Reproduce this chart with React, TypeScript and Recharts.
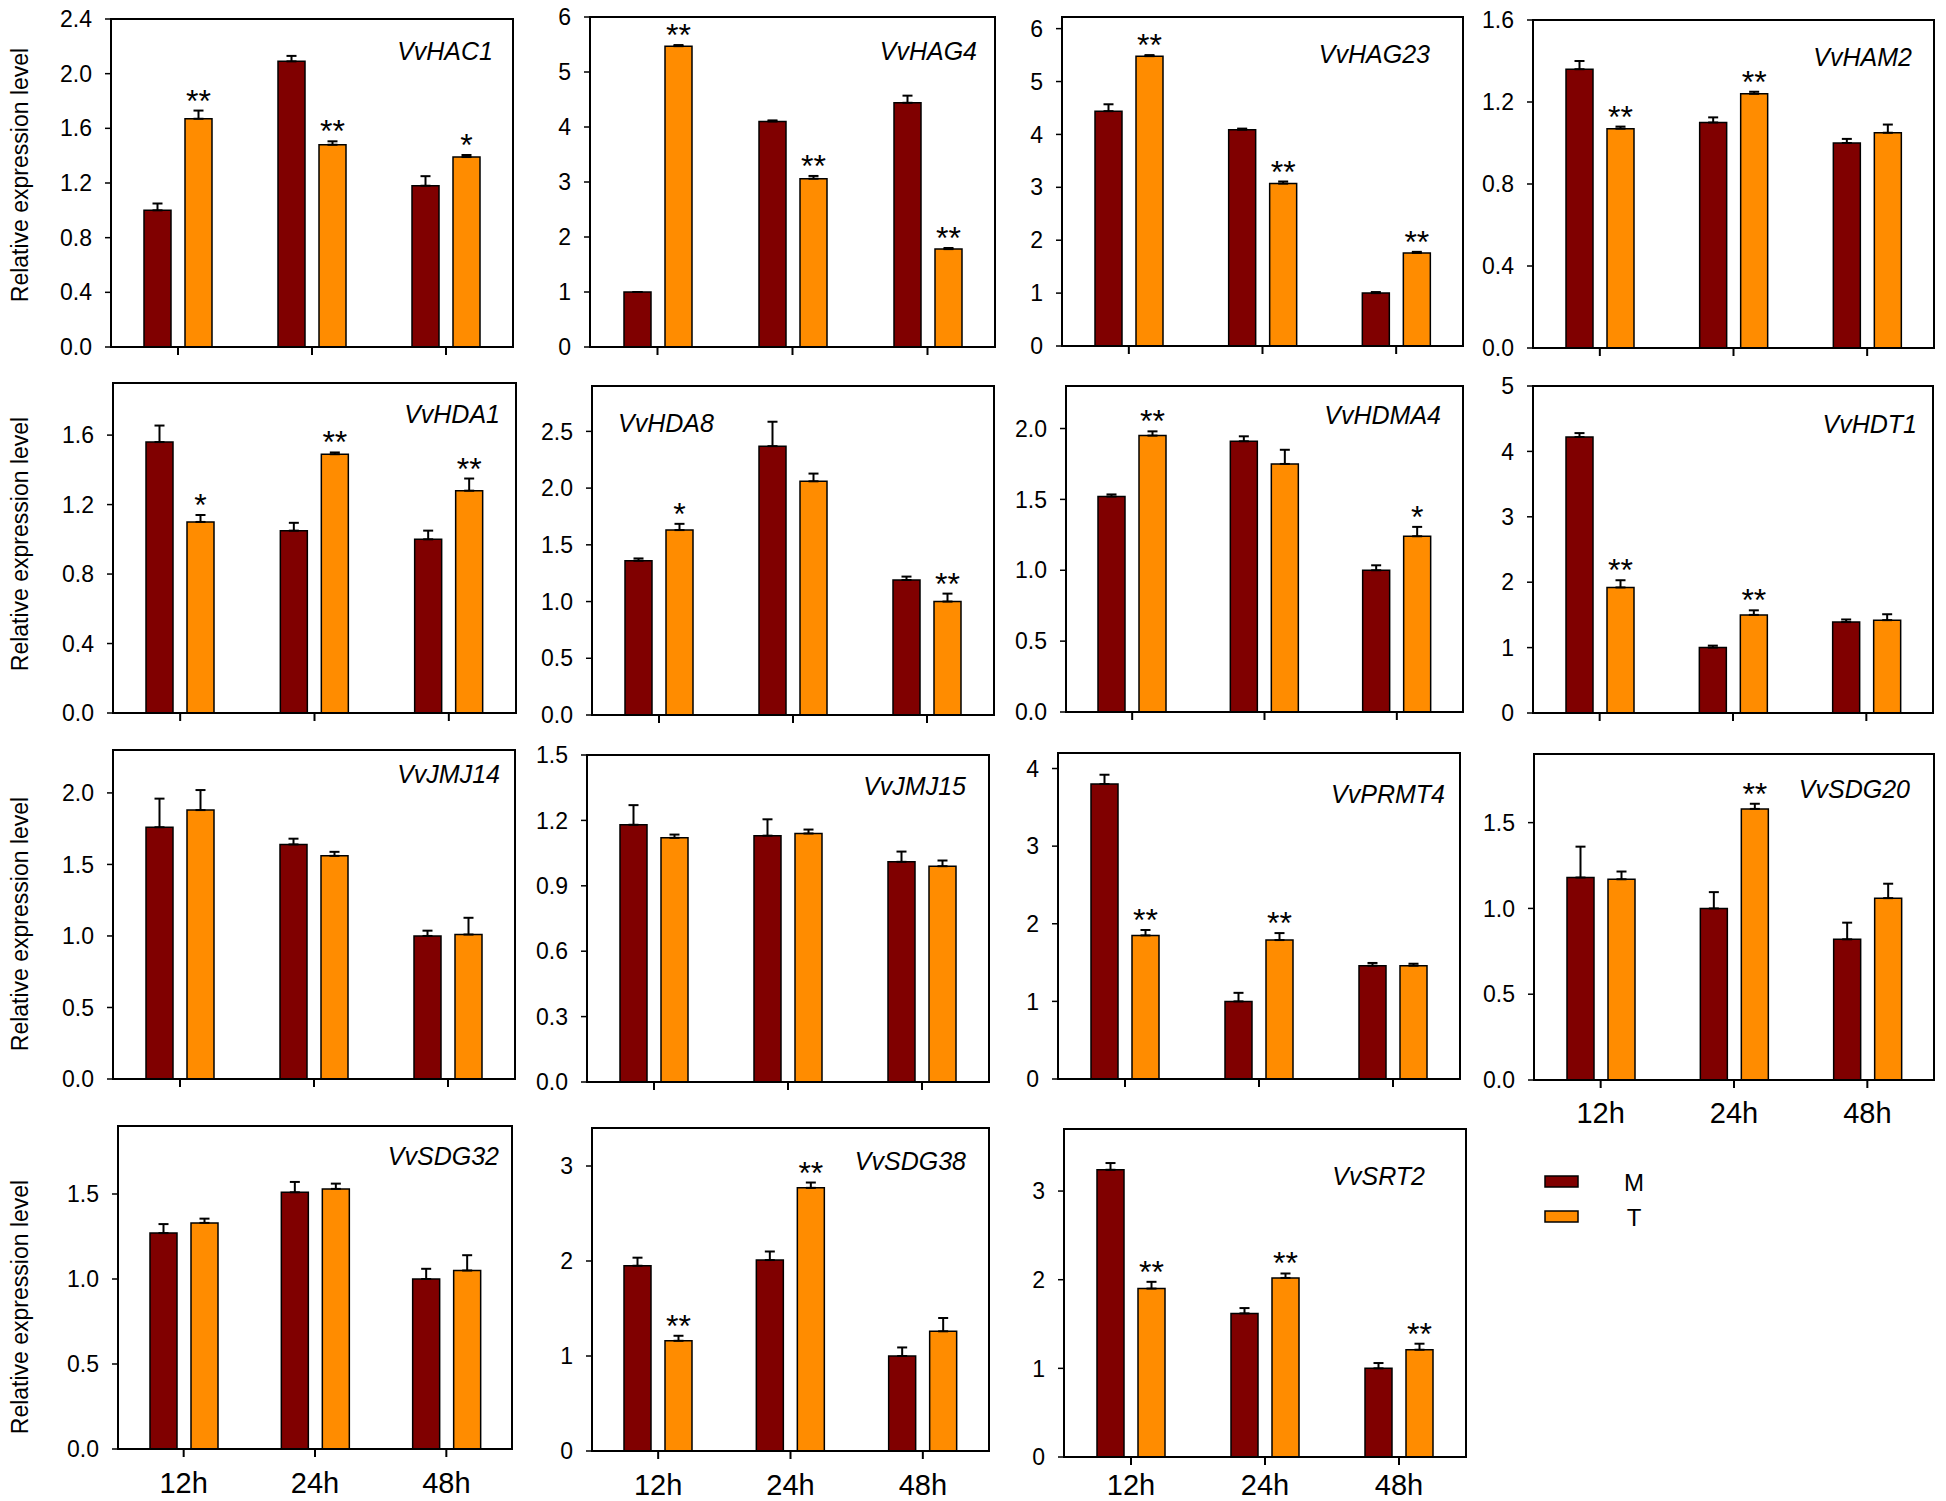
import React from 'react';
import { BarChart, Bar, XAxis, YAxis, ErrorBar, ReferenceArea, Rectangle, Legend } from 'recharts';

// ---------- data ----------
const times = ['12h', '24h', '48h'];
const seriesNames = ['M', 'T'];

const genes = [
  'VvHAC1', 'VvHAG4', 'VvHAG23', 'VvHAM2',
  'VvHDA1', 'VvHDA8', 'VvHDMA4', 'VvHDT1',
  'VvJMJ14', 'VvJMJ15', 'VvPRMT4', 'VvSDG20',
  'VvSDG32', 'VvSDG38', 'VvSRT2',
];

const mValues = [
  [1.0, 2.09, 1.18], [1.0, 4.1, 4.44], [4.44, 4.09, 1.0], [1.36, 1.1, 1.0],
  [1.56, 1.05, 1.0], [1.36, 2.37, 1.19], [1.52, 1.91, 1.0], [4.22, 1.0, 1.39],
  [1.76, 1.64, 1.0], [1.18, 1.13, 1.01], [3.8, 1.0, 1.46], [1.18, 1.0, 0.82],
  [1.27, 1.51, 1.0], [1.95, 2.01, 1.0], [3.24, 1.62, 1.0],
];
const mErrors = [
  [0.05, 0.04, 0.07], [0.0, 0.02, 0.13], [0.13, 0.02, 0.02], [0.04, 0.025, 0.02],
  [0.095, 0.045, 0.05], [0.02, 0.215, 0.03], [0.015, 0.035, 0.035], [0.06, 0.03, 0.04],
  [0.2, 0.04, 0.037], [0.09, 0.075, 0.047], [0.12, 0.11, 0.035], [0.18, 0.095, 0.097],
  [0.053, 0.061, 0.06], [0.085, 0.09, 0.09], [0.076, 0.06, 0.06],
];
const tValues = [
  [1.67, 1.48, 1.39], [5.47, 3.06, 1.78], [5.48, 3.07, 1.76], [1.07, 1.24, 1.05],
  [1.1, 1.49, 1.28], [1.63, 2.06, 1.0], [1.95, 1.75, 1.24], [1.92, 1.5, 1.42],
  [1.88, 1.56, 1.01], [1.12, 1.14, 0.99], [1.85, 1.79, 1.46], [1.17, 1.58, 1.06],
  [1.33, 1.53, 1.05], [1.16, 2.77, 1.26], [1.9, 2.02, 1.21],
];
const tErrors = [
  [0.06, 0.025, 0.015], [0.02, 0.05, 0.02], [0.02, 0.04, 0.02], [0.01, 0.01, 0.04],
  [0.04, 0.01, 0.07], [0.055, 0.068, 0.07], [0.03, 0.1, 0.066], [0.11, 0.07, 0.09],
  [0.14, 0.028, 0.117], [0.015, 0.018, 0.026], [0.07, 0.09, 0.025], [0.045, 0.03, 0.084],
  [0.025, 0.031, 0.09], [0.053, 0.056, 0.14], [0.076, 0.05, 0.068],
];
const tSignificance = [
  ['**', '**', '*'], ['**', '**', '**'], ['**', '**', '**'], ['**', '**', ''],
  ['*', '**', '**'], ['*', '', '**'], ['**', '', '*'], ['**', '**', ''],
  ['', '', ''], ['', '', ''], ['**', '**', ''], ['', '**', ''],
  ['', '', ''], ['**', '**', ''], ['**', '**', '**'],
];

const yMax = [2.4, 6, 6.22, 1.6, 1.9, 2.9, 2.3, 5, 2.3, 1.5, 4.2, 1.9, 1.9, 3.4, 3.7];
const yTicks = [
  [0, 0.4, 0.8, 1.2, 1.6, 2.0, 2.4], [0, 1, 2, 3, 4, 5, 6], [0, 1, 2, 3, 4, 5, 6], [0, 0.4, 0.8, 1.2, 1.6],
  [0, 0.4, 0.8, 1.2, 1.6], [0, 0.5, 1.0, 1.5, 2.0, 2.5], [0, 0.5, 1.0, 1.5, 2.0], [0, 1, 2, 3, 4, 5],
  [0, 0.5, 1.0, 1.5, 2.0], [0, 0.3, 0.6, 0.9, 1.2, 1.5], [0, 1, 2, 3, 4], [0, 0.5, 1.0, 1.5],
  [0, 0.5, 1.0, 1.5], [0, 1, 2, 3], [0, 1, 2, 3],
];
const yDecimals = [1, 0, 0, 1, 1, 1, 1, 0, 1, 1, 0, 1, 1, 0, 0];
const showTimeLabels = [false, false, false, false, false, false, false, false, false, false, false, true, true, true, true];

// ---------- layout (page pixel boxes of each plot area) ----------
type Box = { l: number; t: number; r: number; b: number; col: number; anchor: 'start' | 'end'; dx: number; dy: number; xdy: number; yLabelY?: number };
const boxes: Box[] = [
  { l: 111, t: 19, r: 513, b: 347, col: 0, anchor: 'end', dx: 20, dy: 41, xdy: 34, yLabelY: 175 },
  { l: 590, t: 17, r: 995, b: 347, col: 1, anchor: 'end', dx: 18, dy: 43, xdy: 34 },
  { l: 1062, t: 17, r: 1463, b: 346, col: 2, anchor: 'end', dx: 33, dy: 46, xdy: 34 },
  { l: 1533, t: 20, r: 1934, b: 348, col: 3, anchor: 'end', dx: 22, dy: 46, xdy: 34 },
  { l: 113, t: 383, r: 516, b: 713, col: 0, anchor: 'end', dx: 16, dy: 40, xdy: 34, yLabelY: 544 },
  { l: 592, t: 386, r: 994, b: 715, col: 1, anchor: 'start', dx: 26, dy: 46, xdy: 34 },
  { l: 1066, t: 386, r: 1463, b: 712, col: 2, anchor: 'end', dx: 22, dy: 38, xdy: 34 },
  { l: 1533, t: 386, r: 1933, b: 713, col: 3, anchor: 'end', dx: 16, dy: 47, xdy: 34 },
  { l: 113, t: 750, r: 515, b: 1079, col: 0, anchor: 'end', dx: 15, dy: 33, xdy: 34, yLabelY: 924 },
  { l: 587, t: 755, r: 989, b: 1082, col: 1, anchor: 'end', dx: 23, dy: 40, xdy: 34 },
  { l: 1058, t: 753, r: 1460, b: 1079, col: 2, anchor: 'end', dx: 15, dy: 50, xdy: 34 },
  { l: 1534, t: 754, r: 1934, b: 1080, col: 3, anchor: 'end', dx: 24, dy: 44, xdy: 33 },
  { l: 118, t: 1126, r: 512, b: 1449, col: 0, anchor: 'end', dx: 13, dy: 39, xdy: 34, yLabelY: 1307 },
  { l: 592, t: 1128, r: 989, b: 1451, col: 1, anchor: 'end', dx: 23, dy: 42, xdy: 34 },
  { l: 1064, t: 1129, r: 1466, b: 1457, col: 2, anchor: 'end', dx: 41, dy: 56, xdy: 28 },
];

const FONT = "'Liberation Sans', Arial, Helvetica, sans-serif";
const M_COLOR = '#800000';
const T_COLOR = '#FF8C00';
const MT = 20;
const MR = 12;
const XH = 70;

const TShape = (props: any) => {
  const { x, y, width, height, payload, fill } = props;
  let star: React.ReactNode = null;
  if (payload && payload.tSig && payload.t > 0 && height > 0) {
    const pxPerUnit = height / payload.t;
    const errTop = y - payload.tErrVal * pxPerUnit;
    star = (
      <text x={x + width / 2} y={errTop + 1} textAnchor="middle" fontSize={32} fontFamily={FONT} fill="#000">
        {payload.tSig}
      </text>
    );
  }
  return (
    <g>
      <Rectangle x={x} y={y} width={width} height={height} fill={fill} stroke="#000" strokeWidth={1.5} />
      {star}
    </g>
  );
};

const MShape = (props: any) => {
  const { x, y, width, height, fill } = props;
  return <Rectangle x={x} y={y} width={width} height={height} fill={fill} stroke="#000" strokeWidth={1.5} />;
};

const makeTimeTick = (show: boolean, dy: number) => (props: any) => {
  const { x, y, payload } = props;
  if (!show) return <g />;
  return (
    <text x={x} y={y} dy={dy} textAnchor="middle" fontSize={29} fontFamily={FONT} fill="#000">
      {payload.value}
    </text>
  );
};

const LegendContent = (props: any) => {
  const items = (props.payload || []) as any[];
  return (
    <svg width={140} height={70}>
      {items.map((it, k) => (
        <g key={k}>
          <rect x={1} y={6 + k * 35} width={33} height={11} fill={it.color} stroke="#000" strokeWidth={1.5} />
          <text x={90} y={12 + k * 35} textAnchor="middle" dominantBaseline="central" fontSize={24} fontFamily={FONT} fill="#000">
            {it.value}
          </text>
        </g>
      ))}
    </svg>
  );
};

function Panel({ i }: { i: number }) {
  const box = boxes[i];
  const chartLeft = box.col === 0 ? 0 : box.l - 100;
  const yw = box.l - chartLeft;
  const plotW = box.r - box.l;
  const plotH = box.b - box.t;
  const width = yw + plotW + MR;
  const height = MT + plotH + XH;
  const chartTop = box.t - MT;
  const data = times.map((time, j) => ({
    time,
    m: mValues[i][j],
    mErr: [0, mErrors[i][j]],
    t: tValues[i][j],
    tErr: [0, tErrors[i][j]],
    tErrVal: tErrors[i][j],
    tSig: tSignificance[i][j],
  }));
  const dec = yDecimals[i];
  const titleX = box.anchor === 'end' ? yw + plotW - box.dx : yw + box.dx;
  const isLast = i === genes.length - 1;
  return (
    <div style={{ position: 'absolute', left: chartLeft, top: chartTop }}>
      <BarChart width={width} height={height} data={data} margin={{ top: MT, right: MR, left: 0, bottom: 0 }} barGap={14}>
        <ReferenceArea y1={0} y2={yMax[i]} fill="none" stroke="#000" strokeWidth={2} ifOverflow="visible" />
        <XAxis
          dataKey="time"
          height={XH}
          axisLine={{ stroke: '#000', strokeWidth: 2 }}
          tickLine={{ stroke: '#000', strokeWidth: 2 }}
          tickSize={8}
          tick={makeTimeTick(showTimeLabels[i], box.xdy)}
          interval={0}
        />
        <YAxis
          type="number"
          width={yw}
          domain={[0, yMax[i]]}
          ticks={yTicks[i]}
          interval={0}
          allowDataOverflow
          axisLine={{ stroke: '#000', strokeWidth: 2 }}
          tickLine={{ stroke: '#000', strokeWidth: 1.5 }}
          tickSize={6}
          tickMargin={13}
          tickFormatter={(v: number) => v.toFixed(dec)}
          tick={{ fontSize: 23, fontFamily: FONT, fill: '#000' }}
        />
        <Bar dataKey="m" name={seriesNames[0]} fill={M_COLOR} barSize={27} shape={MShape} isAnimationActive={false}>
          <ErrorBar dataKey="mErr" direction="y" width={5} stroke="#000" strokeWidth={2} isAnimationActive={false} />
        </Bar>
        <Bar dataKey="t" name={seriesNames[1]} fill={T_COLOR} barSize={27} shape={TShape} isAnimationActive={false}>
          <ErrorBar dataKey="tErr" direction="y" width={5} stroke="#000" strokeWidth={2} isAnimationActive={false} />
        </Bar>
        <text
          x={titleX}
          y={MT + box.dy}
          textAnchor={box.anchor}
          fontSize={25}
          fontStyle="italic"
          fontFamily={FONT}
          fill="#000"
        >
          {genes[i]}
        </text>
        {box.col === 0 && box.yLabelY !== undefined ? (
          <text
            x={28}
            y={box.yLabelY - chartTop}
            transform={`rotate(-90, 28, ${box.yLabelY - chartTop})`}
            textAnchor="middle"
            fontSize={23}
            fontFamily={FONT}
            fill="#000"
          >
            Relative expression level
          </text>
        ) : null}
        {isLast ? (
          <Legend
            layout="vertical"
            align="center"
            verticalAlign="middle"
            content={LegendContent}
            wrapperStyle={{ position: 'absolute', left: 1544 - chartLeft, top: 1170 - chartTop, width: 140, height: 70 }}
          />
        ) : null}
      </BarChart>
    </div>
  );
}

export default function App() {
  return (
    <div style={{ position: 'absolute', left: 0, top: 0, width: 1946, height: 1501, background: '#fff', overflow: 'hidden' }}>
      {genes.map((g, i) => (
        <Panel key={g} i={i} />
      ))}
    </div>
  );
}
